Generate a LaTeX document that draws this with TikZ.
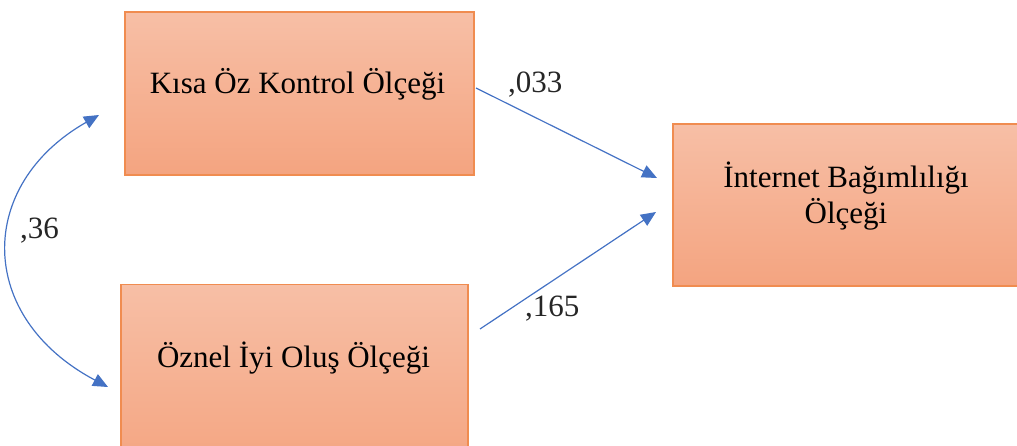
\documentclass[tikz,border=0pt]{standalone}
\usepackage{fontspec}
\setmainfont{Liberation Serif}
\usetikzlibrary{arrows.meta}
\definecolor{boxtop}{RGB}{247,191,166}
\definecolor{boxbot}{RGB}{244,164,128}
\definecolor{boxedge}{RGB}{240,140,80}
\definecolor{arrowblue}{RGB}{68,114,196}
\tikzset{
  scalebox/.style={draw=boxedge, line width=1.2pt, top color=boxtop, bottom color=boxbot, rectangle, inner sep=0pt},
  boxtext/.style={font=\fontsize{31}{36}\selectfont, anchor=base, inner sep=0pt, align=center},
  coeff/.style={font=\fontsize{31}{36}\selectfont, anchor=base west, inner sep=0pt, text=black!85},
  path arrow/.style={draw=arrowblue, line width=1.2pt, -{Triangle[length=15pt,width=13pt]}},
  cov arrow/.style={draw=arrowblue, line width=1.2pt, {Triangle[length=15pt,width=13pt]}-{Triangle[length=15pt,width=13pt]}}
}
\begin{document}
\begin{tikzpicture}[x=1pt,y=-1pt]
\useasboundingbox (0,0) rectangle (1017,445);
\clip (0,0) rectangle (1017,445);
% boxes
\node[scalebox, minimum width=349pt, minimum height=163pt] (k) at (299.5,93.5) {};
\node[scalebox, minimum width=347pt, minimum height=190pt] (o) at (294.5,379.5) {};
\node[scalebox, minimum width=347pt, minimum height=162pt] (i) at (846.5,205) {};
% texts
\node[boxtext] (kt) at (297.5,93) {Kısa Öz Kontrol Ölçeği};
\node[boxtext] (ot) at (293.5,367) {Öznel İyi Oluş Ölçeği};
\node[boxtext] (it1) at (846,187) {İnternet Bağımlılığı};
\node[boxtext] (it2) at (846,223) {Ölçeği};
% connector ends
\coordinate (a1s) at (476,88);
\coordinate (a1e) at (657,178);
\coordinate (a2s) at (480,329);
\coordinate (a2e) at (656,212);
\coordinate (cvt) at (99,115);
\coordinate (cvb) at (108,387);
% arrows
\draw[path arrow] (a1s) -- (a1e);
\draw[path arrow] (a2s) -- (a2e);
\draw[cov arrow] (cvt) .. controls (-24,185) and (-24,317) .. (cvb);
% coefficients
\node[coeff] (c1) at (508,92) {,033};
\node[coeff] (c2) at (525,316) {,165};
\node[coeff] (c3) at (20,238) {,36};
\end{tikzpicture}
\end{document}
